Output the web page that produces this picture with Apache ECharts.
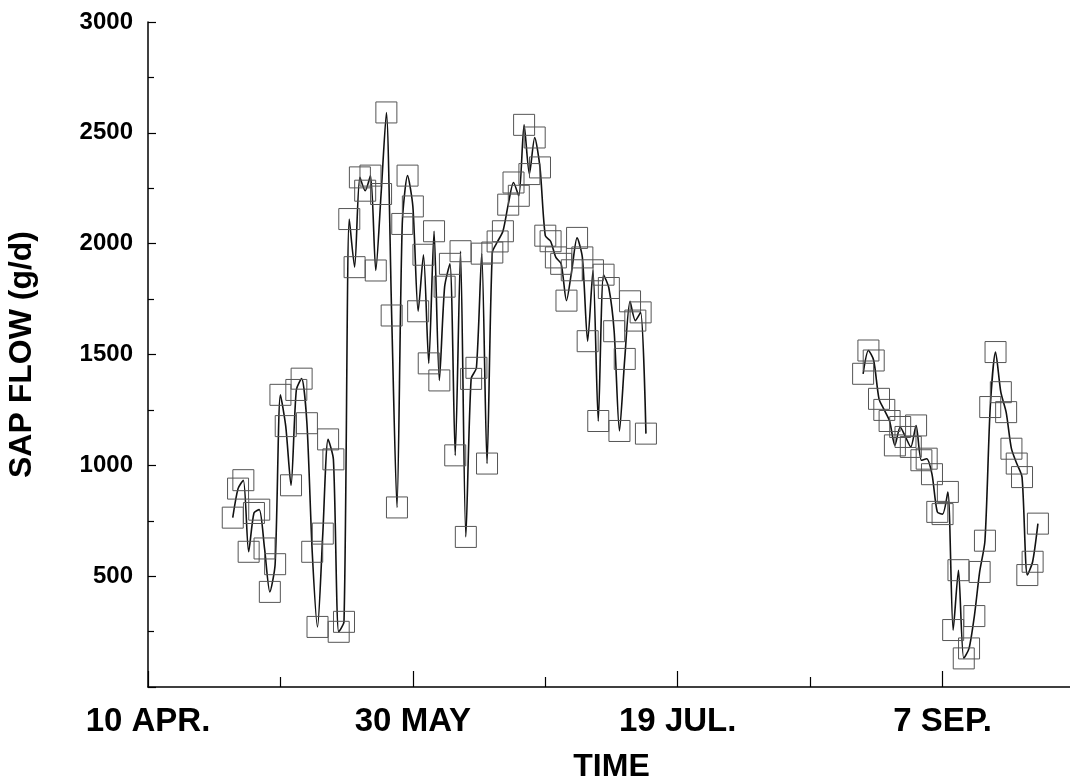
<!DOCTYPE html>
<html>
<head>
<meta charset="utf-8">
<script src="https://cdn.jsdelivr.net/npm/echarts@6/dist/echarts.min.js"></script>
<style>
html,body{margin:0;padding:0;background:#fff;}
#chart{width:1070px;height:781px;}
</style>
</head>
<body>
<div id="chart"></div>
<script>
// Days counted from 10 APR.
const springDays = [16,17,18,19,20,21,22,23,24,25,26,27,28,29,30,31,32,33,34,35,36,37,38,39,40,41,42,43,44,45,46,47,48,49,50,51,52,53,54,55,56,57,58,59,60,61,62,63,64,65,66,67,68,69,70,71,72,73,74,75,76,77,78,79,80,81,82,83,84,85,86,87,88,89,90,91,92,93,94];
const springFlow = [764,895,933,610,785,800,625,429,554,1318,1177,910,1340,1391,1190,610,271,692,1117,1027,249,294,2111,1894,2299,2239,2307,1879,2224,2592,1676,810,2089,2307,2168,1695,1950,1460,2056,1383,1806,1909,1045,1966,677,1390,1440,1955,1008,1960,2010,2056,2176,2276,2216,2536,2314,2479,2344,2036,2011,1938,1909,1743,1880,2026,1938,1560,1880,1200,1860,1800,1605,1155,1480,1740,1653,1690,1143];
const autumnDays = [135,136,137,138,139,140,141,142,143,144,145,146,147,148,149,150,151,152,153,154,155,156,157,158,159,160,161,162,163,164,165,166,167,168];
const autumnFlow = [1413,1518,1473,1300,1250,1200,1090,1173,1128,1083,1180,1023,1030,960,790,780,880,257,527,129,174,320,519,660,1263,1511,1330,1240,1075,1008,947,505,565,737];
const xTickLabels = {0:'10 APR.',50:'30 MAY',100:'19 JUL.',150:'7 SEP.'};
const yTickLabels = [500,1000,1500,2000,2500,3000];

const pairs = (d, v) => d.map((x, i) => [x, v[i]]);
const font = '"Liberation Sans", Arial, Helvetica, sans-serif';

const chart = echarts.init(document.getElementById('chart'), null, {renderer:'canvas'});
const seriesStyle = {
  type: 'line',
  smooth: 0.25,
  symbol: 'rect',
  symbolSize: 21,
  lineStyle: {color:'#111', width:1.6},
  itemStyle: {color:'rgba(0,0,0,0)', borderColor:'#555', borderWidth:1},
  emphasis: {disabled:true},
  animation: false,
  z: 3
};
chart.setOption({
  backgroundColor: '#ffffff',
  animation: false,
  grid: {left:148, right:-5, top:22, bottom:94, containLabel:false, outerBoundsMode:'none'},
  xAxis: {
    type: 'value', min: 0, max: 175, interval: 50,
    name: 'TIME', nameLocation: 'middle', nameGap: 64,
    nameTextStyle: {fontFamily: font, fontWeight:'bold', fontSize:32, color:'#000'},
    axisLine: {show:true, lineStyle:{color:'#000', width:1.5}},
    axisTick: {show:true, inside:true, length:16, lineStyle:{color:'#000', width:1.2}},
    minorTick: {show:true, splitNumber:2, length:10, lineStyle:{color:'#000', width:1.2}},
    splitLine: {show:false},
    minorSplitLine: {show:false},
    axisLabel: {
      margin: 18, fontFamily: font, fontWeight:'bold', fontSize:33, color:'#000',
      formatter: v => xTickLabels[v] || ''
    }
  },
  yAxis: {
    type: 'value', min: 0, max: 3000, interval: 500,
    name: 'SAP FLOW (g/d)', nameLocation: 'middle', nameGap: 110, nameRotate: 90,
    nameTextStyle: {fontFamily: font, fontWeight:'bold', fontSize:32, color:'#000'},
    axisLine: {show:true, lineStyle:{color:'#000', width:1.5}},
    axisTick: {show:true, inside:true, length:8, lineStyle:{color:'#000', width:1.2}},
    minorTick: {show:true, splitNumber:2, length:6, lineStyle:{color:'#000', width:1.2}},
    splitLine: {show:false},
    axisLabel: {
      margin: 15, fontFamily: font, fontWeight:'bold', fontSize:24, color:'#000',
      formatter: v => yTickLabels.indexOf(v) >= 0 ? String(v) : ''
    }
  },
  series: [
    Object.assign({name:'spring', data: pairs(springDays, springFlow)}, seriesStyle),
    Object.assign({name:'autumn', data: pairs(autumnDays, autumnFlow)}, seriesStyle)
  ]
});
</script>
</body>
</html>
